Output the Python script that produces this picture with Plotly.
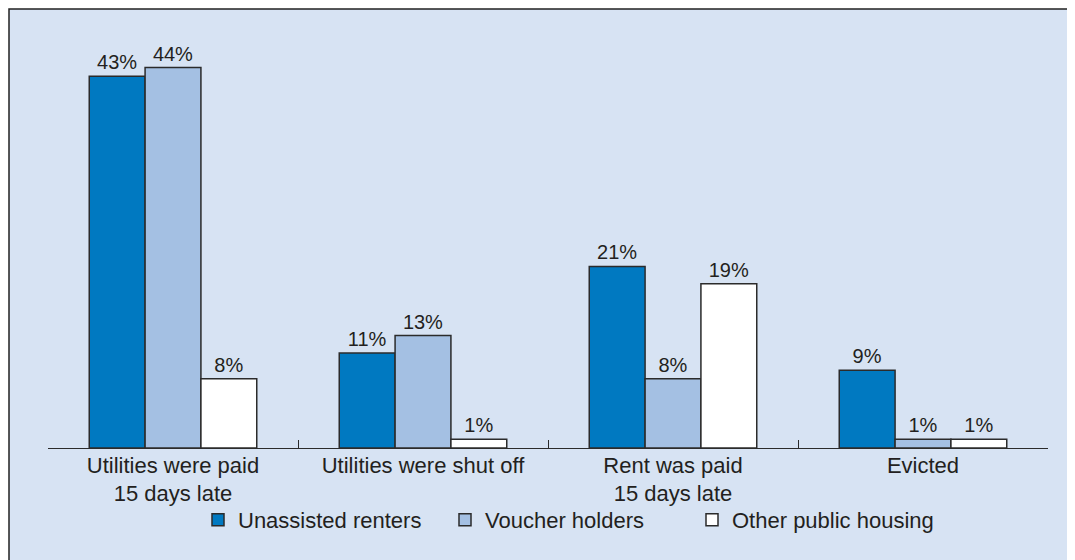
import plotly.graph_objects as go

categories = ["Utilities were paid<br>15 days late", "Utilities were shut off",
              "Rent was paid<br>15 days late", "Evicted"]
series_names = ["Unassisted renters", "Voucher holders", "Other public housing"]
unassisted = [43, 11, 21, 9]
voucher = [44, 13, 8, 1]
other_public = [8, 1, 19, 1]
colors = ["#0079c1", "#a4c0e3", "#ffffff"]

FONT = "Liberation Sans, Arial, Helvetica, sans-serif"
TXT = "#231f20"

fig = go.Figure()
for name, vals, col in zip(series_names, [unassisted, voucher, other_public], colors):
    fig.add_trace(go.Bar(
        name=name, x=categories, y=vals,
        marker=dict(color=col, line=dict(color="#2b2b2b", width=1.5)),
        text=[f"{v}%" for v in vals], textposition="outside",
        textfont=dict(size=20, color=TXT, family=FONT),
        cliponaxis=False,
    ))

fig.update_layout(
    width=1075, height=560,
    margin=dict(l=40, r=35, t=12, b=120),
    paper_bgcolor="white", plot_bgcolor="rgba(0,0,0,0)",
    barmode="group", bargap=0.33, bargroupgap=0,
    font=dict(family=FONT, size=22, color=TXT),
    showlegend=True,
    legend=dict(orientation="h", x=0.15, xanchor="left", y=-0.168, yanchor="middle",
                entrywidth=202, entrywidthmode="pixels",
                bgcolor="rgba(0,0,0,0)", font=dict(size=22, color=TXT), traceorder="normal"),
    shapes=[dict(type="rect", xref="paper", yref="paper", x0=-0.039, x1=1.1, y0=-0.5, y1=1.0257,
                 fillcolor="#d7e3f3", line=dict(color="#222222", width=1.5), layer="below")],
)
fig.update_xaxes(
    type="category", showline=True, linecolor="#2b2b2b", linewidth=1.2,
    ticks="inside", ticklen=8, tickcolor="#2b2b2b", tickwidth=1.2,
    tickson="boundaries", showgrid=False, tickfont=dict(size=22, color=TXT),
    ticklabelstandoff=-3,
)
fig.update_yaxes(range=[0, 49.5], visible=False, showgrid=False, zeroline=False)

fig.write_html("out.html")
